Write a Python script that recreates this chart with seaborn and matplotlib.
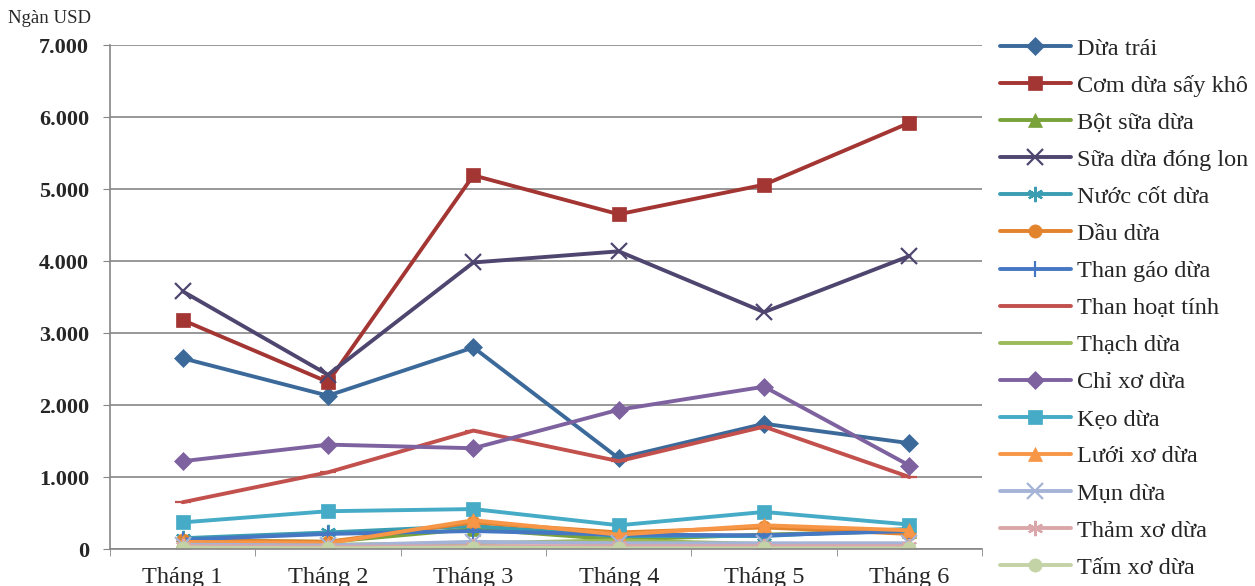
import matplotlib
matplotlib.use("Agg")
import matplotlib.pyplot as plt
import pandas as pd
import seaborn as sns
from matplotlib.ticker import FuncFormatter, FixedLocator

# Monthly export values, thousand USD
months = ["Tháng 1", "Tháng 2", "Tháng 3", "Tháng 4", "Tháng 5", "Tháng 6"]

dua_trai = [2650, 2130, 2800, 1260, 1740, 1470]
com_dua_say_kho = [3180, 2320, 5190, 4650, 5060, 5920]
bot_sua_dua = [120, 100, 280, 130, 200, 250]
sua_dua_dong_lon = [3580, 2420, 3980, 4135, 3290, 4070]
nuoc_cot_dua = [150, 230, 320, 180, 180, 280]
dau_dua = [120, 100, 370, 230, 300, 210]
than_gao_dua = [130, 210, 250, 200, 190, 250]
than_hoat_tinh = [650, 1065, 1645, 1220, 1700, 1000]
thach_dua = [80, 60, 80, 120, 70, 60]
chi_xo_dua = [1220, 1450, 1400, 1935, 2255, 1160]
keo_dua = [370, 525, 555, 330, 515, 340]
luoi_xo_dua = [100, 80, 400, 200, 330, 260]
mun_dua = [60, 50, 100, 80, 80, 80]
tham_xo_dua = [40, 30, 40, 40, 40, 40]
tam_xo_dua = [20, 10, 20, 10, 10, 10]

products = ["Dừa trái", "Cơm dừa sấy khô", "Bột sữa dừa", "Sữa dừa đóng lon",
            "Nước cốt dừa", "Dầu dừa", "Than gáo dừa", "Than hoạt tính",
            "Thạch dừa", "Chỉ xơ dừa", "Kẹo dừa", "Lưới xơ dừa", "Mụn dừa",
            "Thảm xơ dừa", "Tấm xơ dừa"]
values = [dua_trai, com_dua_say_kho, bot_sua_dua, sua_dua_dong_lon, nuoc_cot_dua,
          dau_dua, than_gao_dua, than_hoat_tinh, thach_dua, chi_xo_dua, keo_dua,
          luoi_xo_dua, mun_dua, tham_xo_dua, tam_xo_dua]

colors = ["#3B6A9A", "#A33533", "#79A23B", "#4F4670", "#3A9DB1", "#E2832E",
          "#4577C2", "#C2504D", "#9BBB59", "#7E62A0", "#45ABC6", "#F79646",
          "#A5B3D6", "#D9A7AA", "#C4D3A6"]
markers = ["D", "s", "^", "x", (6, 2, 0), "o", "|", "_", "",
           "D", "s", "^", "x", (6, 2, 0), "o"]

rows = []
for name, vals in zip(products, values):
    for i, v in enumerate(vals):
        rows.append({"product": name, "month": i, "value": v})
df = pd.DataFrame(rows)

sns.set_style("white")
plt.rcParams["font.family"] = ["Liberation Serif", "DejaVu Serif"]

fig = plt.figure(figsize=(12.55, 5.86), dpi=100)
ax = fig.add_axes([0.0876, 0.0631, 0.695, 0.8600])

for name, c, m in zip(products, colors, markers):
    sub = df[df["product"] == name]
    unfilled = m in ("x", "|", "_", (6, 2, 0))
    sns.lineplot(data=sub, x="month", y="value", ax=ax, color=c, linewidth=2.8,
                 marker=m if m else None, markersize=9.5 if not unfilled else 11,
                 markeredgewidth=0.5 if not unfilled else 1.6,
                 markeredgecolor=c, label=name)

ax.set_xlim(-0.5, 5.5)
ax.set_ylim(0, 7000)
ax.set_yticks(range(0, 7001, 1000))
ax.yaxis.set_major_formatter(FuncFormatter(lambda v, p: f"{int(v):,}".replace(",", ".")))
for lbl in ax.get_yticklabels():
    lbl.set_fontweight("bold")
ax.tick_params(axis="y", labelsize=16, length=5, color="#868686", pad=10, left=True)

ax.set_xticks(range(6))
ax.set_xticklabels(months, fontsize=17.5)
ax.xaxis.set_minor_locator(FixedLocator([i - 0.5 for i in range(7)]))
ax.tick_params(axis="x", which="major", length=0, pad=13)
ax.tick_params(axis="x", which="minor", length=5, color="#868686", bottom=True)

ax.grid(axis="y", color="#868686", linewidth=1.2)
ax.set_axisbelow(True)
for s in ["top", "right"]:
    ax.spines[s].set_visible(False)
for s in ["left", "bottom"]:
    ax.spines[s].set_color("#868686")
    ax.spines[s].set_linewidth(1.2)
ax.set_xlabel("")
ax.set_ylabel("")

fig.text(0.006, 0.968, "Ngàn USD", fontsize=13.5, ha="left", va="center")

ax.legend(loc="upper left", bbox_to_anchor=(0.797, 0.936), bbox_transform=fig.transFigure,
          frameon=False, fontsize=17.5, labelspacing=0.62, handlelength=2.9,
          handletextpad=0.25, borderaxespad=0, borderpad=0)

fig.savefig("out.png", dpi=100)
